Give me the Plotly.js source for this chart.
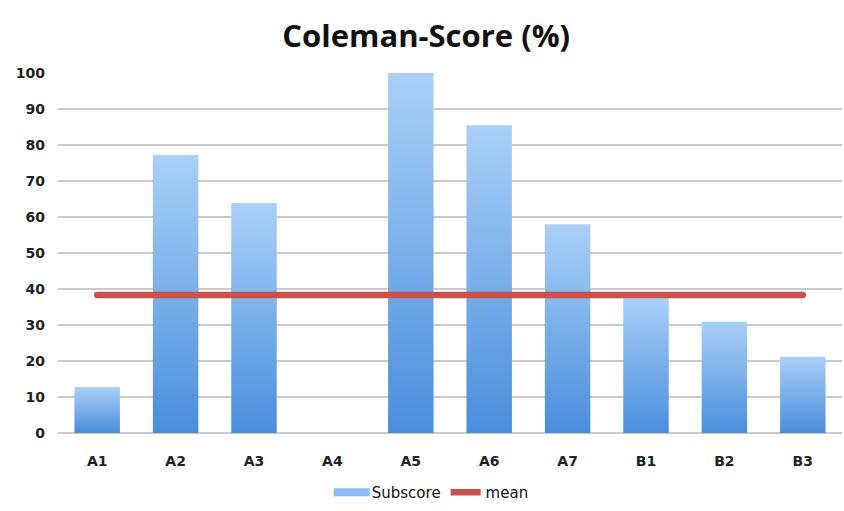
<!DOCTYPE html>
<html><head><meta charset="utf-8">
<script src="https://cdn.plot.ly/plotly-3.0.1.min.js"></script>
<style>html,body{margin:0;padding:0;background:#fff}</style>
</head><body>
<div id="chart" style="width:844px;height:511px"></div>
<script>
const categories = ["A1","A2","A3","A4","A5","A6","A7","B1","B2","B3"];
const subscore = [12.8, 77.2, 63.9, 0, 100, 85.5, 58, 37.9, 30.9, 21.2];
const meanValue = 38.3;
const meanSeries = categories.map(() => meanValue);

const traces = [
  {type:"bar", name:"Subscore", x:categories, y:subscore,
   marker:{color:"#6fa8ea"}, hoverinfo:"x+y"},
  {type:"scatter", mode:"lines", name:"mean", x:categories, y:meanSeries,
   line:{color:"#c9504d", width:6.5}}
];
const layout = {
  width:844, height:511,
  margin:{l:58, r:2, t:73, b:78},
  paper_bgcolor:"#fff", plot_bgcolor:"#fff",
  title:{text:"Coleman-Score (%)", x:0.505, xanchor:"center", y:0.93, yanchor:"middle",
         font:{family:"'Open Sans', sans-serif", size:31, weight:"bold", color:"#111"}},
  bargap:0.42,
  xaxis:{type:"category", showgrid:false, zeroline:false, showline:false, ticks:"",
         ticklabelstandoff:18,
         tickfont:{family:"'DejaVu Sans', sans-serif", size:14, weight:"bold", color:"#222"}},
  yaxis:{range:[0,100], dtick:10, showgrid:true, gridcolor:"#c9c9c9", gridwidth:2,
         zeroline:true, zerolinecolor:"#c9c9c9", zerolinewidth:2, showline:false, ticks:"",
         ticklabelstandoff:12,
         tickfont:{family:"'DejaVu Sans', sans-serif", size:14, weight:"bold", color:"#222"}},
  legend:{orientation:"h", x:0.478, xanchor:"center", y:-0.165, yanchor:"middle",
          font:{family:"'DejaVu Sans', sans-serif", size:15, color:"#111"}},
  showlegend:true
};
Plotly.newPlot("chart", traces, layout, {displayModeBar:false, staticPlot:true}).then(gd => {
  const svg = gd.querySelector("svg.main-svg");
  const ns = "http://www.w3.org/2000/svg";
  let defs = svg.querySelector("defs");
  if (!defs) { defs = document.createElementNS(ns,"defs"); svg.insertBefore(defs, svg.firstChild); }
  const g = document.createElementNS(ns,"linearGradient");
  g.setAttribute("id","barGrad");
  g.setAttribute("x1","0"); g.setAttribute("y1","0"); g.setAttribute("x2","0"); g.setAttribute("y2","1");
  [["0%","#a9d0f8"],["100%","#4a8edb"]].forEach(([o,c]) => {
    const s = document.createElementNS(ns,"stop");
    s.setAttribute("offset",o); s.setAttribute("stop-color",c); g.appendChild(s);
  });
  defs.appendChild(g);
  gd.querySelectorAll(".barlayer .point path").forEach(p => { p.style.fill = "url(#barGrad)"; });
  gd.querySelectorAll(".scatterlayer .js-line").forEach(p => { p.style.strokeLinecap = "round"; });
  gd.querySelectorAll(".legend .legendpoints path").forEach(p => {
    const d = p.getAttribute("d") || "";
    if (/^M6,6H-6V-6H6Z$/.test(d)) { p.setAttribute("d","M18,4H-18V-4H18Z"); p.style.fill = "#8fbcf0"; p.style.stroke = "none"; }
  });
});
</script>
</body></html>
